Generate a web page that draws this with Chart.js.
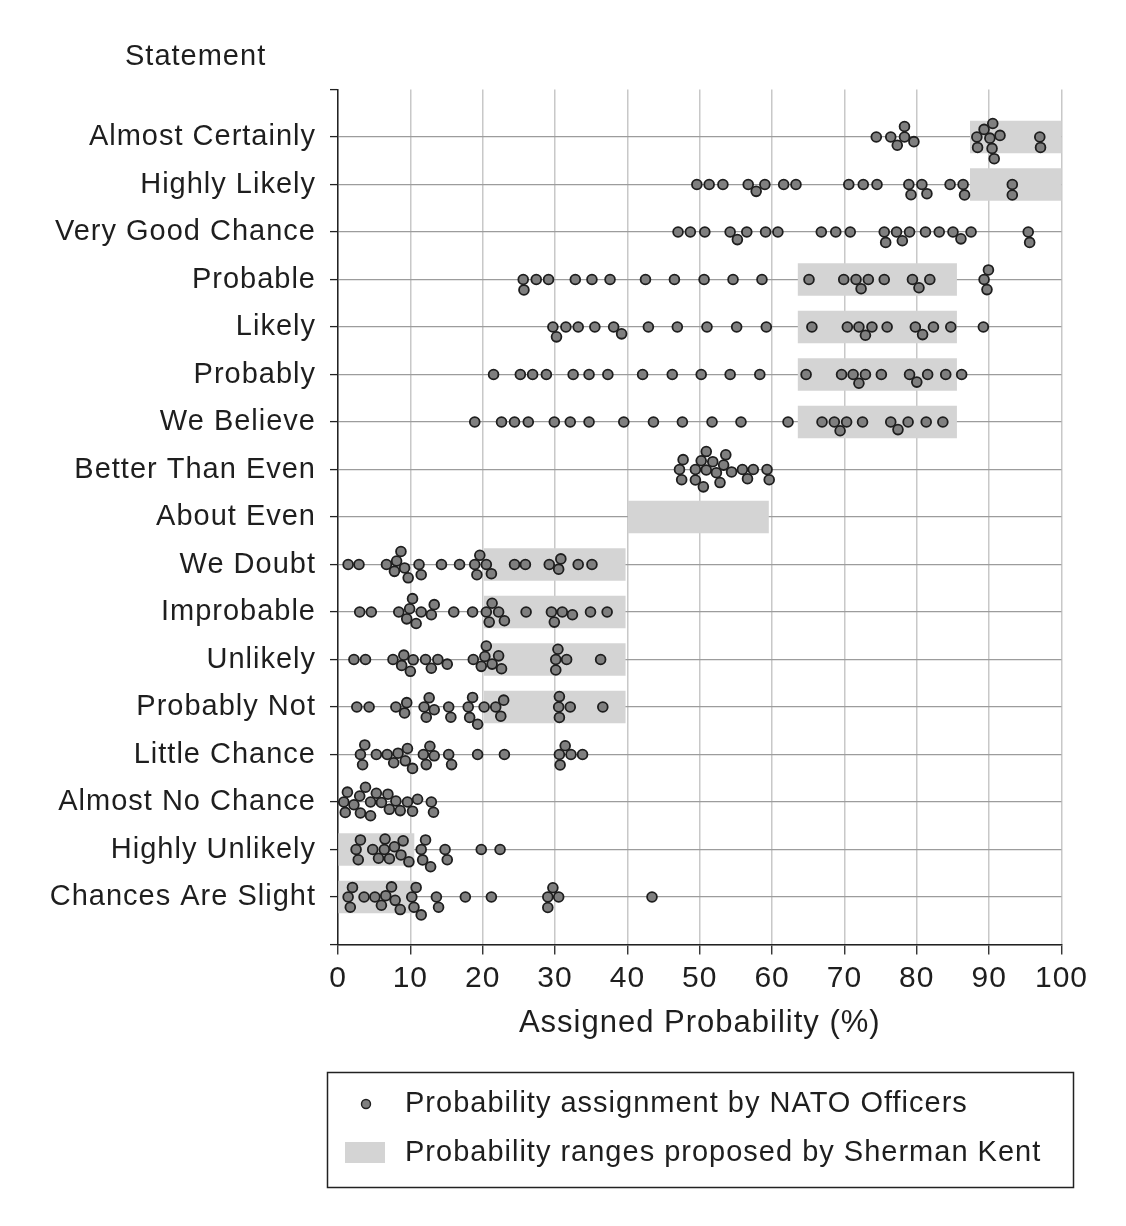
<!DOCTYPE html>
<html><head><meta charset="utf-8">
<script src="https://cdn.jsdelivr.net/npm/chart.js@4.4.0/dist/chart.umd.min.js"></script>
<style>html,body{margin:0;padding:0;background:#fff;}canvas{display:block;}</style>
</head><body>
<canvas id="c" width="1126" height="1226"></canvas>
<script>
const statements = ['Almost Certainly','Highly Likely','Very Good Chance','Probable','Likely','Probably','We Believe','Better Than Even','About Even','We Doubt','Improbable','Unlikely','Probably Not','Little Chance','Almost No Chance','Highly Unlikely','Chances Are Slight'];
const kentLow  = [87.4, 87.4, null, 63.6, 63.6, 63.6, 63.6, null, 40.1, 20.2, 20.2, 20.2, 20.2, null, null, 0, 0];
const kentHigh = [100, 100, null, 85.5, 85.5, 85.5, 85.5, null, 59.5, 39.7, 39.7, 39.7, 39.7, null, null, 10.5, 10.7];

const almostCertainly = [74.4, 76.4, 77.3, 78.3, 78.3, 79.6, 88.3, 88.4, 89.3, 90.1, 90.7, 90.4, 90.5, 91.5, 97.0, 97.1];
const highlyLikely = [49.6, 51.3, 53.2, 56.7, 57.8, 59.0, 61.6, 63.3, 70.6, 72.6, 74.5, 78.9, 79.2, 80.7, 81.4, 84.6, 86.4, 86.6, 93.2, 93.2];
const veryGoodChance = [47.0, 48.7, 50.7, 54.2, 55.2, 56.5, 59.1, 60.8, 66.8, 68.8, 70.8, 75.5, 75.7, 77.2, 78.0, 79.0, 81.2, 83.1, 85.0, 86.1, 87.5, 95.4, 95.6];
const probable = [25.6, 25.7, 27.4, 29.1, 32.8, 35.1, 37.6, 42.5, 46.5, 50.6, 54.6, 58.6, 65.1, 69.9, 71.6, 72.3, 73.3, 75.5, 79.4, 80.3, 81.8, 89.3, 89.7, 89.9];
const likely = [29.7, 30.2, 31.5, 33.2, 35.5, 38.1, 39.2, 42.9, 46.9, 51.0, 55.1, 59.2, 65.5, 70.4, 72.0, 72.9, 73.8, 75.9, 79.8, 80.8, 82.3, 84.7, 89.2];
const probably = [21.5, 25.2, 26.9, 28.8, 32.5, 34.7, 37.3, 42.1, 46.2, 50.2, 54.2, 58.3, 64.7, 69.6, 71.2, 72.0, 72.9, 75.1, 79.0, 80.0, 81.5, 84.0, 86.2];
const weBelieve = [18.9, 22.6, 24.4, 26.3, 29.9, 32.1, 34.7, 39.5, 43.6, 47.6, 51.7, 55.7, 62.2, 66.9, 68.6, 69.4, 70.3, 72.5, 76.4, 77.4, 78.8, 81.3, 83.6];
const betterThanEven = [47.2, 47.5, 47.7, 49.4, 49.4, 50.2, 50.5, 50.9, 50.9, 51.8, 52.3, 52.8, 53.3, 53.6, 54.4, 55.9, 56.6, 57.4, 59.3, 59.6];
const aboutEven = [];
const weDoubt = [1.4, 2.9, 6.7, 7.8, 8.1, 8.7, 9.2, 9.7, 11.2, 11.5, 14.3, 16.8, 18.9, 19.2, 19.6, 20.5, 21.2, 24.4, 25.9, 29.2, 30.5, 30.8, 33.2, 35.1];
const improbable = [3.0, 4.6, 8.4, 9.5, 9.9, 10.3, 10.8, 11.5, 12.9, 13.3, 16.0, 18.6, 20.5, 20.9, 21.3, 22.2, 23.0, 26.0, 29.5, 29.9, 31.0, 32.4, 34.9, 37.2];
const unlikely = [2.2, 3.8, 7.6, 8.8, 9.1, 10.0, 10.4, 12.1, 12.9, 13.8, 15.1, 18.7, 19.8, 20.3, 20.5, 21.3, 22.2, 22.6, 30.1, 30.1, 30.4, 31.6, 36.3];
const probablyNot = [2.6, 4.3, 8.0, 9.2, 9.5, 11.9, 12.2, 12.6, 13.3, 15.3, 15.6, 18.0, 18.2, 18.6, 19.3, 20.2, 21.8, 22.5, 22.9, 30.5, 30.6, 30.6, 32.1, 36.6];
const littleChance = [3.1, 3.4, 3.7, 5.3, 6.8, 7.7, 8.3, 9.3, 9.6, 10.3, 11.8, 12.2, 12.7, 13.3, 15.3, 15.7, 19.3, 23.0, 30.6, 30.7, 31.4, 32.2, 33.8];
const almostNoChance = [0.8, 1.0, 1.3, 2.2, 3.0, 3.1, 3.8, 4.5, 4.5, 5.3, 6.0, 6.9, 7.1, 8.0, 8.6, 9.6, 10.3, 11.0, 12.9, 13.2];
const highlyUnlikely = [2.5, 2.8, 3.1, 4.8, 5.6, 6.4, 6.5, 7.1, 7.8, 8.7, 9.0, 9.8, 11.5, 11.7, 12.1, 12.8, 14.8, 15.1, 19.8, 22.4];
const chancesAreSlight = [1.4, 1.7, 2.0, 3.6, 5.1, 6.0, 6.6, 7.4, 7.9, 8.6, 10.2, 10.5, 10.8, 11.5, 13.6, 13.9, 17.6, 21.2, 29.0, 29.0, 29.7, 30.5, 43.4];

const officerValues = [almostCertainly, highlyLikely, veryGoodChance, probable, likely, probably, weBelieve, betterThanEven, aboutEven, weDoubt, improbable, unlikely, probablyNot, littleChance, almostNoChance, highlyUnlikely, chancesAreSlight];
const legendLabels = ['Probability assignment by NATO Officers', 'Probability ranges proposed by Sherman Kent'];
const yTitle = 'Statement';
const xTitle = 'Assigned Probability (%)';

const FONT = '"Liberation Sans", Arial, Helvetica, sans-serif';
const TEXT = '#1e1e1e';

const scatterData = [];
officerValues.forEach((vals, row) => vals.forEach(v => scatterData.push({x: v, y: row})));
const kentData = [];
statements.forEach((s, i) => { if (kentLow[i] !== null) kentData.push({x: [kentLow[i], kentHigh[i]], y: i}); });

const overlay = {
  id: 'overlay',
  beforeUpdate(chart) { chart.ctx.letterSpacing = '1px'; },
  beforeDraw(chart) {
    const c = chart.ctx;
    c.save(); c.fillStyle = '#fff'; c.fillRect(0, 0, chart.width, chart.height); c.restore();
    c.letterSpacing = '1px';
  },
  afterDraw(chart) {
    const c = chart.ctx;
    c.save();
    c.letterSpacing = '1px';
    c.font = '29px ' + FONT; c.fillStyle = TEXT; c.textBaseline = 'middle'; c.textAlign = 'left';
    c.fillText(yTitle, 125, 57);
    c.lineWidth = 1.5; c.strokeStyle = '#222';
    c.strokeRect(327.5, 1072.5, 746, 115);
    const d0 = chart.data.datasets[0], d1 = chart.data.datasets[1];
    c.beginPath(); c.arc(366, 1104, 4.5, 0, Math.PI * 2);
    c.fillStyle = d0.backgroundColor; c.fill();
    c.lineWidth = 1.4; c.strokeStyle = d0.borderColor; c.stroke();
    c.fillStyle = d1.backgroundColor; c.fillRect(345, 1142, 40, 21);
    c.fillStyle = TEXT;
    c.fillText(legendLabels[0], 405, 1104);
    c.fillText(legendLabels[1], 405, 1153);
    c.restore();
  }
};

const chart = new Chart(document.getElementById('c'), {
  type: 'scatter',
  data: {
    datasets: [
      { type: 'scatter', label: legendLabels[0], data: scatterData, order: 0,
        backgroundColor: '#7f7f7f', borderColor: '#1e1e1e', borderWidth: 1.8,
        pointRadius: 4.9, pointHoverRadius: 4.9 },
      { type: 'bar', label: legendLabels[1], data: kentData, order: 1, indexAxis: 'y',
        backgroundColor: '#d4d4d4', borderWidth: 0, barThickness: 32, grouped: false }
    ]
  },
  options: {
    responsive: false, animation: false,
    layout: { padding: { top: 89.5, right: 64.5, bottom: 184, left: 0 } },
    plugins: { legend: { display: false }, tooltip: { enabled: false } },
    scales: {
      x: {
        type: 'linear', min: 0, max: 100, offset: false,
        ticks: { stepSize: 10, autoSkip: false, maxRotation: 0, padding: 6, color: TEXT, font: { family: FONT, size: 30 } },
        grid: { color: '#c8c8c8', lineWidth: 1.5, tickLength: 10, tickColor: '#222', tickWidth: 1.3, offset: false },
        border: { color: '#222', width: 1.5 },
        title: { display: true, text: xTitle, color: TEXT, font: { family: FONT, size: 31 }, padding: { top: 4, bottom: 0 } },
        afterFit(s) { s.height = 97.5; s.paddingLeft = 0; s.paddingRight = 0; }
      },
      y: {
        type: 'linear', min: -1, max: 17, reverse: true, offset: false,
        ticks: { stepSize: 1, autoSkip: false, padding: 14, color: TEXT, font: { family: FONT, size: 29 },
          callback: v => (v >= 0 && v < statements.length) ? statements[v] : '' },
        grid: { color: ctx => (ctx.tick && ctx.tick.value === -1) ? 'rgba(0,0,0,0)' : '#9c9c9c',
          lineWidth: 1.2, tickLength: 8, tickColor: '#222', tickWidth: 1.3, offset: false },
        border: { color: '#222', width: 1.5 },
        afterFit(s) { s.width = 338; s.paddingTop = 0; s.paddingBottom = 0; }
      }
    }
  },
  plugins: [overlay]
});

// Beeswarm layout of the dots around each statement line (computed via the chart scales)
(function swarm() {
  const xs = chart.scales.x, ys = chart.scales.y;
  const ppu = Math.abs(ys.getPixelForValue(1) - ys.getPixelForValue(0));
  const D = 10.5;
  const pts = [];
  officerValues.forEach((vals, row) => {
    const placed = [];
    vals.slice().sort((a, b) => a - b).forEach(v => {
      const px = xs.getPixelForValue(v);
      const iv = [];
      placed.forEach(q => {
        const dx = px - q.px;
        if (Math.abs(dx) < D) { const h = Math.sqrt(D * D - dx * dx); iv.push([q.dy - h, q.dy + h]); }
      });
      const cands = [0];
      iv.forEach(r => cands.push(r[1], r[0]));
      cands.sort((a, b) => Math.abs(a) - Math.abs(b));
      let dy = 0;
      for (const cnd of cands) {
        if (iv.every(r => cnd <= r[0] + 1e-6 || cnd >= r[1] - 1e-6)) { dy = cnd; break; }
      }
      placed.push({px, dy});
      pts.push({x: v, y: row + dy / ppu});
    });
  });
  chart.data.datasets[0].data = pts;
  chart.update('none');
})();
</script>
</body></html>
